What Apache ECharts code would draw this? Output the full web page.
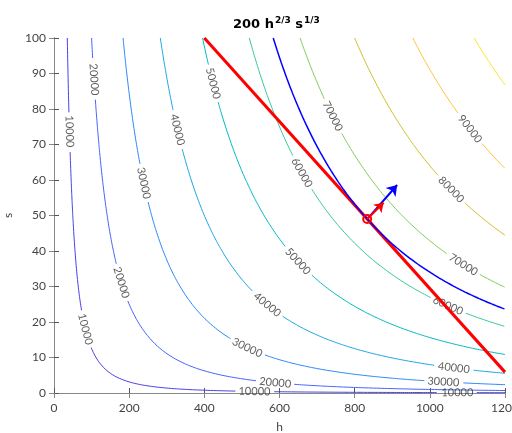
<!DOCTYPE html>
<html>
<head>
<meta charset="utf-8">
<script src="https://cdn.jsdelivr.net/npm/echarts@6/dist/echarts.min.js"></script>
<style>
  html, body { margin: 0; padding: 0; background: #fff; }
  #chart { width: 512px; height: 433px; }
</style>
</head>
<body>
<div id="chart"></div>
<script>
// f(h, s) = 200 h^(2/3) s^(1/3)
const coef = 200, powH = 2 / 3, powS = 1 / 3;

const levels = [10000, 20000, 30000, 40000, 50000, 60000, 70000, 80000, 90000, 100000];
const levelColors = ['#4741E5', '#4563FC', '#2E87F7', '#20A5E2', '#02BAC3',
                     '#37C897', '#81CC59', '#D1BF27', '#FEC338', '#F5E924'];

// [level, h, s] rough centres of the inline labels
const labelSpots = [
  [10000, 37, 74], [20000, 104, 88], [30000, 237, 59], [40000, 325, 74],
  [50000, 418, 87], [60000, 660, 62], [70000, 740, 78], [80000, 1054, 57],
  [90000, 1102, 74],
  [10000, 82, 18], [20000, 176, 31], [30000, 511, 12], [40000, 569, 25],
  [50000, 649, 37], [60000, 1046, 24], [70000, 1088, 36],
  [40000, 1064, 7], [30000, 1035, 3], [10000, 1072, 0.1],
  [20000, 588, 3], [10000, 535, 0.4]
];

const budgetLine = [[400, 100], [1200, 5.88]];
const optimum = [833.3, 49.0];
const redArrowTip = [877, 53.6];
const blueArrowTip = [913, 58.6];

const xMin = 0, xMax = 1200, xStep = 200;
const yMin = 0, yMax = 100, yStep = 10;

// plot box in pixels
const gl = 54, gt = 38, gw = 451, gh = 355;
function toPx(h, s) {
  return [gl + (h - xMin) / (xMax - xMin) * gw, gt + gh - (s - yMin) / (yMax - yMin) * gh];
}

function sOnLevel(c, h) {
  return Math.pow(c / (coef * Math.pow(h, powH)), 1 / powS);
}

function curve(c) {
  let h0 = Math.pow(c / (coef * Math.pow(yMax, powS)), 1 / powH);
  let pts = [];
  let n = 600;
  for (let i = 0; i <= n; i++) {
    let h = h0 * Math.pow(xMax / h0, i / n);
    pts.push([h, sOnLevel(c, h)]);
  }
  return pts;
}

const contourSeries = [];
const labelData = [];
levels.forEach(function (c, k) {
  let pts = curve(c);
  let px = pts.map(p => toPx(p[0], p[1]));
  let cut = new Array(pts.length).fill(false);
  labelSpots.filter(l => l[0] === c).forEach(function (l) {
    let want = toPx(l[1], l[2]);
    let best = 0, bd = Infinity;
    px.forEach(function (q, i) {
      let d = (q[0] - want[0]) ** 2 + (q[1] - want[1]) ** 2;
      if (d < bd) { bd = d; best = i; }
    });
    let a = px[Math.max(best - 2, 0)], b = px[Math.min(best + 2, px.length - 1)];
    let ang = -Math.atan2(b[1] - a[1], b[0] - a[0]) * 180 / Math.PI;
    if (ang < -90) ang += 180;
    if (ang > 90) ang -= 180;
    let ctr = px[best];
    px.forEach(function (q, i) {
      if ((q[0] - ctr[0]) ** 2 + (q[1] - ctr[1]) ** 2 < 19 * 19) cut[i] = true;
    });
    labelData.push({ value: [pts[best][0], pts[best][1], c], label: { rotate: ang } });
  });
  let data = pts.map((p, i) => cut[i] ? null : p);
  contourSeries.push({
    type: 'line',
    data: data,
    showSymbol: false,
    silent: true,
    z: 2,
    lineStyle: { color: levelColors[k], width: 1 }
  });
});

const tangentLevel = coef * Math.pow(optimum[0], powH) * Math.pow(optimum[1], powS);

let chart = echarts.init(document.getElementById('chart'));
let fontFam = 'Lato, "DejaVu Sans", sans-serif';
let titleFont = '"DejaVu Sans", Arial, sans-serif';
let option = {
  animation: false,
  backgroundColor: '#fff',
  title: {
    text: '{b|200 h}{sup|2/3}{b| s}{sup|1/3}',
    left: 233,
    top: 14,
    padding: 0,
    textStyle: {
      lineHeight: 22,
      rich: {
        b: { fontSize: 13, fontWeight: 'bold', color: '#000', fontFamily: titleFont, lineHeight: 22, verticalAlign: 'middle' },
        sup: { fontSize: 9, fontWeight: 'bold', color: '#000', fontFamily: titleFont, lineHeight: 22, verticalAlign: 'middle', padding: [0, 0, 8, 1] }
      }
    }
  },
  grid: { left: gl, top: gt, width: gw, height: gh, outerBoundsMode: 'none', containLabel: false },
  xAxis: [{
    type: 'value', min: xMin, max: xMax, interval: xStep, position: 'bottom',
    name: 'h', nameLocation: 'middle', nameGap: 28,
    nameTextStyle: { color: '#444', fontSize: 12, fontFamily: fontFam },
    axisLine: { show: true, lineStyle: { color: '#555' } },
    axisTick: { inside: true, length: 5, lineStyle: { color: '#555' } },
    axisLabel: { color: '#444', fontSize: 12, fontFamily: fontFam, margin: 9, formatter: v => String(v) },
    splitLine: { show: false }
  }, {
    type: 'value', min: xMin, max: xMax, interval: xStep, position: 'top',
    axisLine: { show: true, lineStyle: { color: '#888' } },
    axisTick: { inside: true, length: 5, lineStyle: { color: '#888' } },
    axisLabel: { show: false },
    splitLine: { show: false }
  }],
  yAxis: [{
    type: 'value', min: yMin, max: yMax, interval: yStep, position: 'left',
    name: 's', nameLocation: 'middle', nameGap: 38,
    nameTextStyle: { color: '#444', fontSize: 12, fontFamily: fontFam },
    axisLine: { show: true, lineStyle: { color: '#555' } },
    axisTick: { inside: true, length: 5, lineStyle: { color: '#555' } },
    axisLabel: { color: '#444', fontSize: 12, fontFamily: fontFam, margin: 8, formatter: v => String(v) },
    splitLine: { show: false }
  }, {
    type: 'value', min: yMin, max: yMax, interval: yStep, position: 'right',
    axisLine: { show: true, lineStyle: { color: '#888' } },
    axisTick: { inside: true, length: 5, lineStyle: { color: '#888' } },
    axisLabel: { show: false },
    splitLine: { show: false }
  }],
  series: contourSeries.concat([
    {
      type: 'scatter',
      data: labelData,
      symbolSize: 0,
      silent: true,
      z: 3,
      label: {
        show: true,
        position: 'inside',
        formatter: p => String(p.value[2]),
        color: '#333',
        fontSize: 11,
        fontFamily: fontFam
      }
    },
    {
      type: 'line',
      data: budgetLine,
      showSymbol: false,
      silent: true,
      z: 4,
      lineStyle: { color: '#FF0000', width: 3 }
    },
    {
      type: 'line',
      data: curve(tangentLevel),
      showSymbol: false,
      silent: true,
      z: 5,
      lineStyle: { color: '#0000FF', width: 1.5 }
    },
    {
      type: 'lines',
      coordinateSystem: 'cartesian2d',
      silent: true,
      z: 6,
      symbol: ['none', 'arrow'],
      symbolSize: 10,
      lineStyle: { color: '#0000FF', width: 2, opacity: 1 },
      data: [{ coords: [optimum, blueArrowTip] }]
    },
    {
      type: 'lines',
      coordinateSystem: 'cartesian2d',
      silent: true,
      z: 7,
      symbol: ['none', 'arrow'],
      symbolSize: 9,
      lineStyle: { color: '#FF0000', width: 2, opacity: 1 },
      data: [{ coords: [optimum, redArrowTip] }]
    },
    {
      type: 'scatter',
      data: [optimum],
      symbol: 'circle',
      symbolSize: 8,
      silent: true,
      z: 8,
      itemStyle: { color: 'rgba(255,255,255,0)', borderColor: '#FF0000', borderWidth: 2, opacity: 1 }
    }
  ])
};
chart.setOption(option);
</script>
</body>
</html>
